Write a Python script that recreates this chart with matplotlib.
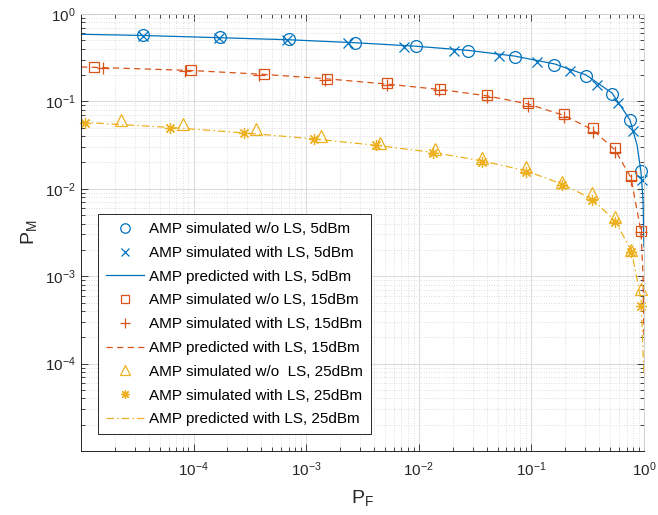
import matplotlib
matplotlib.use("Agg")
import matplotlib.pyplot as plt
from matplotlib.ticker import LogLocator, NullFormatter, FixedLocator, LogFormatterMathtext

plt.rcParams['font.family'] = ['Liberation Sans', 'DejaVu Sans']
plt.rcParams['mathtext.default'] = 'regular'

BLUE = '#0072BD'
ORANGE = '#D95319'
YELLOW = '#EDB120'

# ---- 5 dBm ----
pf_sim_nols_5 = [3.58e-5, 1.73e-4, 7.1e-4, 2.72e-3, 9.4e-3, 0.0275, 0.0708, 0.16, 0.307, 0.522, 0.75, 0.933]
pm_sim_nols_5 = [0.575, 0.542, 0.514, 0.470, 0.431, 0.381, 0.325, 0.261, 0.194, 0.122, 0.0607, 0.0161]

pf_sim_ls_5 = [3.58e-5, 1.67e-4, 6.76e-4, 2.37e-3, 7.43e-3, 0.0207, 0.0513, 0.113, 0.221, 0.379, 0.583, 0.792, 0.955]
pm_sim_ls_5 = [0.565, 0.527, 0.505, 0.463, 0.423, 0.381, 0.334, 0.281, 0.221, 0.154, 0.0953, 0.0464, 0.0127]

pf_pred_5 = [1e-5, 3.56e-5, 1.73e-4, 7.1e-4, 2.74e-3, 9.4e-3, 0.0277, 0.0711, 0.161, 0.305, 0.519, 0.75, 0.867, 0.94, 0.98, 0.999]
pm_pred_5 = [0.586, 0.568, 0.535, 0.507, 0.469, 0.428, 0.383, 0.330, 0.268, 0.201, 0.125, 0.0615, 0.0318, 0.0156, 0.0075, 0.00217]

# ---- 15 dBm ----
pf_sim_nols_15 = [1.31e-5, 9.46e-5, 4.19e-4, 1.53e-3, 5.2e-3, 0.0153, 0.0404, 0.0935, 0.194, 0.349, 0.552, 0.771, 0.946]
pm_sim_nols_15 = [0.250, 0.229, 0.206, 0.182, 0.161, 0.140, 0.119, 0.0969, 0.0720, 0.0494, 0.0294, 0.0140, 0.0033]

pf_sim_ls_15 = [1.58e-5, 8.4e-5, 3.78e-4, 1.48e-3, 5.2e-3, 0.0152, 0.0404, 0.0935, 0.194, 0.349, 0.552, 0.766, 0.94]
pm_sim_ls_15 = [0.240, 0.223, 0.199, 0.176, 0.154, 0.135, 0.112, 0.0888, 0.0660, 0.0445, 0.0267, 0.0127, 0.00323]

pf_pred_15 = [1e-5, 9.33e-5, 4.16e-4, 1.55e-3, 5.17e-3, 0.0153, 0.0401, 0.0929, 0.194, 0.351, 0.552, 0.766, 0.94, 0.98, 0.999]
pm_pred_15 = [0.248, 0.226, 0.204, 0.181, 0.158, 0.137, 0.116, 0.0936, 0.0692, 0.0472, 0.0279, 0.0134, 0.00323, 1.04e-3, 1.88e-4]

# ---- 25 dBm ----
pf_sim_nols_25 = [2.27e-5, 8.07e-5, 3.6e-4, 1.36e-3, 4.54e-3, 0.0138, 0.0367, 0.0891, 0.187, 0.347, 0.552, 0.774, 0.94]
pm_sim_nols_25 = [0.0615, 0.0553, 0.0481, 0.0406, 0.0338, 0.0284, 0.0228, 0.0177, 0.0121, 0.00893, 0.00482, 0.00201, 7.14e-4]

pf_sim_ls_25 = [1.09e-5, 6.19e-5, 2.82e-4, 1.17e-3, 4.19e-3, 0.0133, 0.0364, 0.0891, 0.187, 0.347, 0.552, 0.774, 0.94]
pm_sim_ls_25 = [0.0572, 0.0502, 0.0433, 0.0373, 0.0318, 0.0260, 0.0202, 0.0155, 0.0111, 0.00749, 0.00416, 0.00189, 4.6e-4]

pf_pred_25 = [1e-5, 6.19e-5, 2.82e-4, 1.16e-3, 4.2e-3, 0.0133, 0.0362, 0.0891, 0.185, 0.344, 0.552, 0.774, 0.94, 0.999]
pm_pred_25 = [0.0578, 0.0504, 0.0436, 0.0373, 0.0314, 0.0261, 0.0209, 0.0161, 0.0114, 0.00769, 0.00431, 0.00196, 5.39e-4, 7.5e-5]

x_ticks = [1e-4, 1e-3, 1e-2, 1e-1, 1e0]
y_ticks = [1e-4, 1e-3, 1e-2, 1e-1, 1e0]

fig = plt.figure(figsize=(6.58, 5.15), dpi=100)
ax = fig.add_axes([81 / 658, 1 - 451 / 515, 563 / 658, 437 / 515])

lw = 0.9
mew = 0.9
mk = dict(linestyle='none', clip_on=False, mew=mew)
ax.plot(pf_sim_nols_5, pm_sim_nols_5, marker='o', mfc='none', mec=BLUE, ms=8.5,
        label='AMP simulated w/o LS, 5dBm', **mk)
ax.plot(pf_sim_ls_5, pm_sim_ls_5, marker='x', color=BLUE, ms=6.5,
        label='AMP simulated with LS, 5dBm', **mk)
ax.plot(pf_pred_5, pm_pred_5, '-', color=BLUE, lw=lw,
        label='AMP predicted with LS, 5dBm')
ax.plot(pf_sim_nols_15, pm_sim_nols_15, marker='s', mfc='none', mec=ORANGE, ms=7,
        label='AMP simulated w/o LS, 15dBm', **mk)
ax.plot(pf_sim_ls_15, pm_sim_ls_15, marker='+', color=ORANGE, ms=8.5,
        label='AMP simulated with LS, 15dBm', **mk)
ax.plot(pf_pred_15, pm_pred_15, '--', color=ORANGE, lw=lw, dashes=(5, 3.5),
        label='AMP predicted with LS, 15dBm')
ax.plot(pf_sim_nols_25, pm_sim_nols_25, marker='^', mfc='none', mec=YELLOW, ms=9,
        label='AMP simulated w/o  LS, 25dBm', **mk)
ax.plot(pf_sim_ls_25, pm_sim_ls_25, marker=(8, 2, 0), color=YELLOW, ms=8,
        label='AMP simulated with LS, 25dBm', **mk)
ax.plot(pf_pred_25, pm_pred_25, '-.', color=YELLOW, lw=lw, dashes=(6, 2.5, 1.2, 2.5),
        label='AMP predicted with LS, 25dBm')

ax.set_xscale('log')
ax.set_yscale('log')
ax.set_xlim(1e-5, 1)
ax.set_ylim(1e-5, 1)

ax.xaxis.set_major_locator(FixedLocator(x_ticks))
ax.yaxis.set_major_locator(FixedLocator(y_ticks))
ax.xaxis.set_major_formatter(LogFormatterMathtext())
ax.yaxis.set_major_formatter(LogFormatterMathtext())
ax.xaxis.set_minor_locator(LogLocator(base=10, subs=range(2, 10), numticks=20))
ax.yaxis.set_minor_locator(LogLocator(base=10, subs=range(2, 10), numticks=20))
ax.xaxis.set_minor_formatter(NullFormatter())
ax.yaxis.set_minor_formatter(NullFormatter())

ax.grid(True, which='major', color='#dcdcdc', lw=0.8, ls='-')
ax.grid(True, which='minor', color='#d4d4d4', lw=0.6, ls=(0, (1, 2)))
ax.set_axisbelow(True)

ax.tick_params(which='both', direction='in', top=True, right=True, colors='#262626',
               labelsize=11, width=0.6)
ax.tick_params(which='major', length=5)
ax.tick_params(which='minor', length=3)
ax.tick_params(axis='x', pad=7)
ax.tick_params(axis='y', pad=4)
for s in ['left', 'bottom']:
    ax.spines[s].set_color('#262626')
    ax.spines[s].set_linewidth(0.7)
for s in ['top', 'right']:
    ax.spines[s].set_color('#d0d0d0')
    ax.spines[s].set_linewidth(0.7)

ax.set_xlabel('$P_F$', fontsize=14, color='#262626', labelpad=6)
ax.set_ylabel('$P_M$', fontsize=14, color='#262626', labelpad=4)

leg = ax.legend(loc='lower left', bbox_to_anchor=(0.03, 0.039), fontsize=11,
                frameon=True, fancybox=False, framealpha=1, edgecolor='#262626',
                handlelength=2.5, handletextpad=0.36, labelspacing=0.64,
                borderpad=0.5, borderaxespad=0, markerscale=0.8)
leg.get_frame().set_linewidth(0.7)

fig.savefig('out.png', dpi=100)
